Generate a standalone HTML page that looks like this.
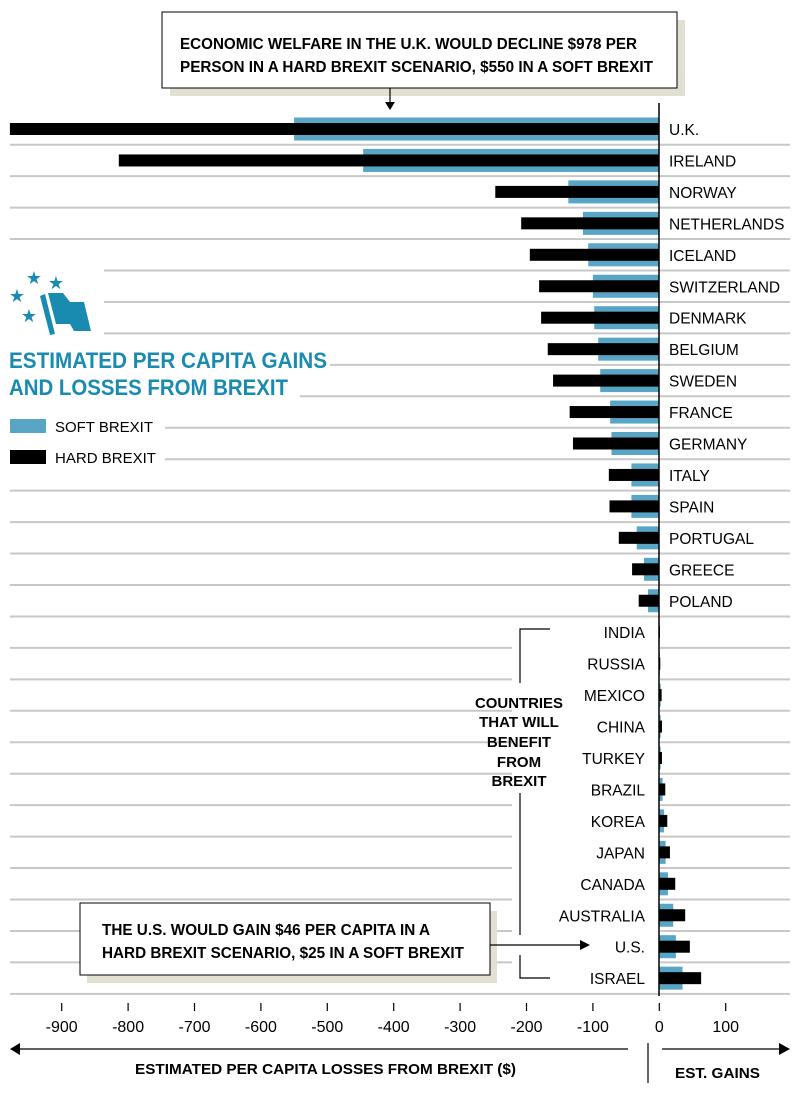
<!DOCTYPE html>
<html><head><meta charset="utf-8"><style>
body{margin:0;background:#fff;width:800px;height:1107px;overflow:hidden;font-family:"Liberation Sans",sans-serif}
svg text{font-family:"Liberation Sans",sans-serif}
</style></head><body>
<svg id="chart" width="800" height="1107" viewBox="0 0 800 1107" xmlns="http://www.w3.org/2000/svg">
<g id="grid"></g>
<g id="bars"></g>
<g id="labels"></g>
<line x1="659" y1="103" x2="659" y2="996" stroke="#000" stroke-width="1.5"/>
<g id="ticks"></g>
<rect x="170" y="20" width="515" height="76" fill="#e2dfd3"/>
<rect x="162" y="12" width="515" height="76" fill="#fff" stroke="#000" stroke-width="1"/>
<text font-size="16" font-weight="bold" fill="#000"><tspan x="180" y="49" textLength="457" lengthAdjust="spacingAndGlyphs">ECONOMIC WELFARE IN THE U.K. WOULD DECLINE $978 PER</tspan><tspan x="180" y="72" textLength="473" lengthAdjust="spacingAndGlyphs">PERSON IN A HARD BREXIT SCENARIO, $550 IN A SOFT BREXIT</tspan></text>
<line x1="390" y1="88" x2="390" y2="104" stroke="#000" stroke-width="1.2"/>
<polygon points="385,102 395,102 390,110" fill="#000"/>
<rect x="87" y="911" width="410" height="72" fill="#e2dfd3"/>
<rect x="80" y="903" width="410" height="72" fill="#fff" stroke="#000" stroke-width="1"/>
<text font-size="16" font-weight="bold" fill="#000"><tspan x="102" y="935" textLength="328" lengthAdjust="spacingAndGlyphs">THE U.S. WOULD GAIN $46 PER CAPITA IN A</tspan><tspan x="102" y="958" textLength="362" lengthAdjust="spacingAndGlyphs">HARD BREXIT SCENARIO, $25 IN A SOFT BREXIT</tspan></text>
<line x1="490" y1="945" x2="582" y2="945" stroke="#000" stroke-width="1.2"/>
<polygon points="580,940 590,945 580,950" fill="#000"/>
<g stroke="#000" stroke-width="1.2" fill="none">
<polyline points="550,629 520,629 520,683"/>
<line x1="520" y1="793" x2="520" y2="935"/>
<polyline points="520,955 520,978 550,978"/>
</g>
<text font-size="15" font-weight="bold" text-anchor="middle" fill="#000"><tspan x="519" y="708" textLength="88" lengthAdjust="spacingAndGlyphs">COUNTRIES</tspan><tspan x="519" y="727">THAT WILL</tspan><tspan x="519" y="747">BENEFIT</tspan><tspan x="519" y="767">FROM</tspan><tspan x="519" y="786">BREXIT</tspan></text>
<g fill="#1a8bb0">
<text x="34" y="284" font-size="18" text-anchor="middle">★</text>
<text x="56" y="289" font-size="18" text-anchor="middle">★</text>
<text x="17" y="302" font-size="18" text-anchor="middle">★</text>
<text x="29" y="322" font-size="18" text-anchor="middle">★</text>
<polygon points="40,296 45,294 55,334 50,335"/>
<polygon points="48,293 63,293 70,302 84,302 91,331 74,331 70,324 56,324"/>
</g>
<text font-size="22" font-weight="bold" fill="#1a8bb0"><tspan x="9" y="368" textLength="318" lengthAdjust="spacingAndGlyphs">ESTIMATED PER CAPITA GAINS</tspan><tspan x="9" y="395" textLength="279" lengthAdjust="spacingAndGlyphs">AND LOSSES FROM BREXIT</tspan></text>
<g>
<rect x="10" y="419" width="36" height="14" fill="#58a5c6"/>
<text x="55" y="432" font-size="15" textLength="98" lengthAdjust="spacingAndGlyphs">SOFT BREXIT</text>
<rect x="10" y="450" width="36" height="14" fill="#000"/>
<text x="55" y="463" font-size="15" textLength="101" lengthAdjust="spacingAndGlyphs">HARD BREXIT</text>
</g>
<line x1="18" y1="1049" x2="628" y2="1049" stroke="#000" stroke-width="1.2"/>
<polygon points="10,1049 20,1043 20,1055" fill="#000"/>
<line x1="648" y1="1043" x2="648" y2="1083" stroke="#000" stroke-width="1.2"/>
<line x1="662" y1="1049" x2="782" y2="1049" stroke="#000" stroke-width="1.2"/>
<polygon points="790,1049 779,1043 779,1055" fill="#000"/>
<text x="135" y="1074" font-size="15" font-weight="bold" textLength="381" lengthAdjust="spacingAndGlyphs">ESTIMATED PER CAPITA LOSSES FROM BREXIT ($)</text>
<text x="675" y="1078" font-size="15" font-weight="bold" textLength="85" lengthAdjust="spacingAndGlyphs">EST. GAINS</text>
</svg>
<script>
const countries=["U.K.","IRELAND","NORWAY","NETHERLANDS","ICELAND","SWITZERLAND","DENMARK","BELGIUM","SWEDEN","FRANCE","GERMANY","ITALY","SPAIN","PORTUGAL","GREECE","POLAND","INDIA","RUSSIA","MEXICO","CHINA","TURKEY","BRAZIL","KOREA","JAPAN","CANADA","AUSTRALIA","U.S.","ISRAEL"];
const softValues=[-550,-446,-137,-115,-107,-100,-98,-92,-89,-74,-72,-42,-42,-34,-23,-17,0.5,0.8,2,2,2,5,7,9.5,13,21,25,35];
const hardValues=[-978,-814,-247,-208,-195,-181,-178,-168,-160,-135,-130,-76,-75,-61,-41,-31,1,1.5,3.5,4,4,9,12,16,24,39,46,63];
const tickValues=[-900,-800,-700,-600,-500,-400,-300,-200,-100,0,100];
const NS="http://www.w3.org/2000/svg";
const x=v=>659.3+v*0.664;
const y=i=>129+i*31.45;
function mk(tag,attrs,parent){const e=document.createElementNS(NS,tag);for(const k in attrs)e.setAttribute(k,attrs[k]);parent.appendChild(e);return e;}
const grid=document.getElementById('grid'),bars=document.getElementById('bars'),labels=document.getElementById('labels'),ticks=document.getElementById('ticks');
const gridStart=[10,10,10,10,104,104,104,330,300,165,165];
for(let i=0;i<countries.length;i++){
  const gy=y(i)+15.7;
  const s=i<gridStart.length?gridStart[i]:10;
  if(i<=15||i===countries.length-1){
    const l=mk('line',{x1:s,y1:gy,x2:790,y2:gy,stroke:'#c8c8c8','stroke-width':2},grid);
    
    
  }else{
    const l=mk('line',{x1:10,y1:gy,x2:512,y2:gy,stroke:'#c8c8c8','stroke-width':2},grid);
    
    
    const l2=mk('line',{x1:660,y1:gy,x2:790,y2:gy,stroke:'#c8c8c8','stroke-width':2},grid);
    
    
  }
}
for(let i=0;i<countries.length;i++){
  const sv=softValues[i],hv=hardValues[i];
  const sb=mk('rect',{x:Math.min(x(0),x(sv)),y:y(i)-11.5,width:Math.abs(x(sv)-x(0)),height:23,fill:'#58a5c6'},bars);
  
  
  const hb=mk('rect',{x:Math.min(x(0),x(hv)),y:y(i)-6,width:Math.abs(x(hv)-x(0)),height:12,fill:'#000'},bars);
  
  
  const neg=hv<0;
  const t=mk('text',{x:neg?669:645,y:y(i)+6,'font-size':15.5,'text-anchor':neg?'start':'end',fill:'#000'},labels);
  t.textContent=countries[i];
  
  
}
for(const v of tickValues){
  const tl=mk('line',{x1:x(v),y1:1003,x2:x(v),y2:1011,stroke:'#000','stroke-width':1.2},ticks);
  
  
  const tt=mk('text',{x:x(v),y:1032,'font-size':16,'text-anchor':'middle'},ticks);
  tt.textContent=v;
  
  
}
</script>
</body></html>
